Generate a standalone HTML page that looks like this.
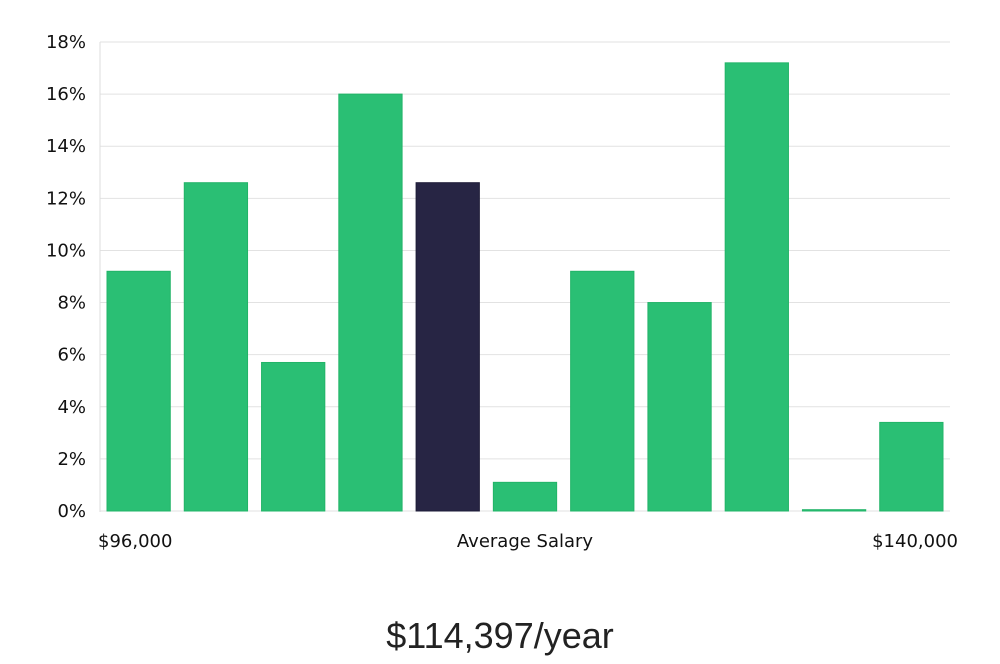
<!DOCTYPE html>
<html><head><meta charset="utf-8"><style>
html,body{margin:0;padding:0;background:#fff;}
body{width:1000px;height:660px;overflow:hidden;font-family:"DejaVu Sans","Liberation Sans",sans-serif;}
</style></head><body>
<svg id="chart" width="1000" height="660" xmlns="http://www.w3.org/2000/svg">
<g id="grid"></g><g id="bars"></g><g id="ylabels"></g>
<line x1="100" y1="42" x2="100" y2="512" stroke="#ddd" stroke-width="1"/>
<text x="98" y="547" font-size="18" fill="#111">$96,000</text>
<text x="525" y="547" font-size="18" fill="#111" text-anchor="middle">Average Salary</text>
<text x="958" y="547" font-size="18" fill="#111" text-anchor="end">$140,000</text>
<text x="500" y="648" font-size="36" fill="#222" text-anchor="middle" font-family="'Liberation Sans',sans-serif" font-weight="300">$114,397/year</text>
</svg>
<script>
const categories=["b1","b2","b3","b4","b5","b6","b7","b8","b9","b10","b11"];
const values=[9.2,12.6,5.7,16.0,12.6,1.1,9.2,8.0,17.2,0.05,3.4];
const highlight=[false,false,false,false,true,false,false,false,false,false,false];
const yTicks=[0,2,4,6,8,10,12,14,16,18];
const NS="http://www.w3.org/2000/svg";
const x0=100,x1=950,yTop=42,yBot=511,yMax=18;
function y(v){return yBot-(v/yMax)*(yBot-yTop);}
const step=(x1-x0)/categories.length;
function bx(i){return x0+i*step+7;}
const bw=step-14;
const grid=document.getElementById('grid'),yl=document.getElementById('ylabels'),bars=document.getElementById('bars');
yTicks.forEach(t=>{
 const l=document.createElementNS(NS,'line');
 
 
 l.setAttribute('x1',x0);l.setAttribute('x2',x1);l.setAttribute('y1',y(t));l.setAttribute('y2',y(t));
 l.setAttribute('stroke','#e2e2e2');l.setAttribute('stroke-width','1');grid.appendChild(l);
 const tx=document.createElementNS(NS,'text');
 
 
 tx.setAttribute('x',86);tx.setAttribute('y',y(t)+6);tx.setAttribute('text-anchor','end');
 tx.setAttribute('font-size','18');tx.setAttribute('fill','#111');tx.textContent=t+'%';yl.appendChild(tx);
});
values.forEach((v,i)=>{
 const r=document.createElementNS(NS,'rect');
 
 
 r.setAttribute('x',bx(i));r.setAttribute('width',bw);
 r.setAttribute('y',y(v));r.setAttribute('height',Math.max(1,yBot-y(v)));
 r.setAttribute('fill',highlight[i]?'#272544':'#2abf74');
 r.setAttribute('stroke',highlight[i]?'#1e1c38':'#22b468');r.setAttribute('stroke-width','1');
 bars.appendChild(r);
});
</script>
</body></html>
